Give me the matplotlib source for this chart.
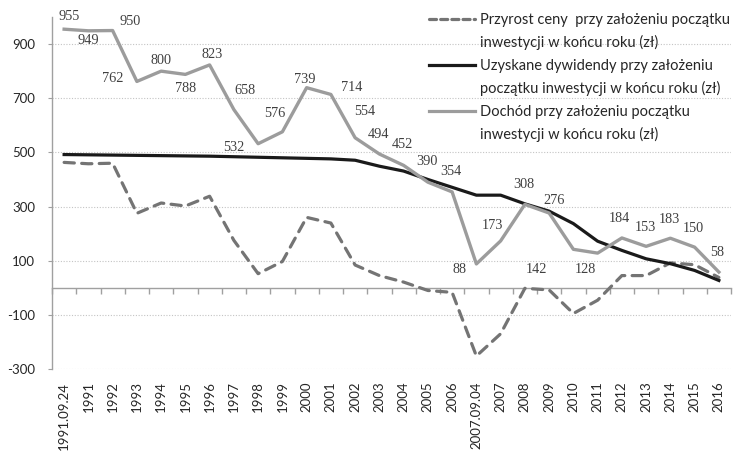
import numpy as np
import matplotlib
matplotlib.use("Agg")
import matplotlib.pyplot as plt
from matplotlib.lines import Line2D

categories = ["1991.09.24", "1991", "1992", "1993", "1994", "1995", "1996", "1997",
              "1998", "1999", "2000", "2001", "2002", "2003", "2004", "2005", "2006",
              "2007.09.04", "2007", "2008", "2009", "2010", "2011", "2012", "2013",
              "2014", "2015", "2016"]

dochod = [955, 949, 950, 762, 800, 788, 823, 658, 532, 576, 739, 714, 554, 494,
          452, 390, 354, 88, 173, 308, 276, 142, 128, 184, 153, 183, 150, 58]

dywidendy = [492, 491, 490, 489, 488, 487, 486, 484, 482, 480, 478, 476, 471, 449,
             431, 400, 371, 342, 342, 310, 283, 237, 172, 138, 107, 89, 64, 27]

przyrost = [463, 458, 460, 275, 313, 302, 338, 175, 52, 97, 260, 239, 84, 45,
            21, -10, -17, -252, -170, -2, -8, -95, -46, 45, 45, 92, 85, 38]

label_offsets = [(5, 13), (0, -10), (17, 9), (-24, 3), (0, 11), (0, -14), (3, 10),
                 (11, 19), (-24, -4), (-8, 18), (-2, 8), (21, 7), (10, 26), (-1, 20),
                 (-1, 21), (-1, 21), (-1, 20), (-17, -6), (-8, 15), (-1, 20), (5, 13),
                 (-37, -20), (-12, -16), (-2, 19), (-1, 19), (-1, 19), (-1, 19), (-2, 20)]

legend_labels = ["Przyrost ceny  przy założeniu początku", "inwestycji w końcu roku (zł)",
                 "Uzyskane dywidendy przy założeniu", "początku inwestycji w końcu roku (zł)",
                 "Dochód przy założeniu początku", "inwestycji w końcu roku (zł)"]

plt.rcParams['font.family'] = ['Lato', 'DejaVu Sans']
plt.rcParams['axes.unicode_minus'] = False

fig = plt.figure(figsize=(7.36, 4.53), dpi=100)
ax = fig.add_axes([52/736, 1-369/453, (731-52)/736, (369-17)/453])

x = np.arange(len(categories))
c_dash = "#747474"
c_gray = "#9c9c9c"
c_black = "#1a1a1a"

ax.plot(x, przyrost, color=c_dash, lw=2.3, dashes=(3.2, 2.3), dash_capstyle='round',
        solid_joinstyle='round', zorder=3)
ax.plot(x, dywidendy, color=c_black, lw=2.3, zorder=4)
ax.plot(x, dochod, color=c_gray, lw=2.4, zorder=5)

for i, v in enumerate(dochod):
    dx, dy = label_offsets[i]
    ax.annotate(str(v), (x[i], v), xytext=(dx, dy), textcoords='offset pixels',
                ha='center', va='center', fontsize=10.3, family='Liberation Serif',
                color='#404040', zorder=6)

ax.set_xlim(-0.5, len(categories) - 0.5)
ax.set_ylim(-300, 1000)
yt = np.arange(-300, 1000, 200)
ax.set_yticks(yt)
ax.yaxis.grid(True, linestyle=(0, (1, 1.5)), color='#c4c4c4', lw=0.8)
ax.set_axisbelow(True)
ax.tick_params(axis='y', length=3, color='#a0a0a0', labelsize=9.5, pad=9, labelcolor='#262626')

ax.set_xticks(x, categories, rotation=90)
ax.tick_params(axis='x', length=0, pad=9, labelsize=9.5, labelcolor='#262626')

for s in ['top', 'right', 'bottom']:
    ax.spines[s].set_visible(False)
ax.spines['left'].set_color('#a0a0a0')
ax.spines['left'].set_linewidth(1.0)

sec = ax.secondary_xaxis(0, transform=ax.transData)
sec.set_xticks(np.arange(-0.5, len(categories)), [])
sec.tick_params(axis='x', length=4, color='#a0a0a0', width=1.0)
sec.spines['bottom'].set_color('#a0a0a0')
sec.spines['bottom'].set_linewidth(1.0)

handles = [Line2D([], [], color=c_dash, lw=2.3, dashes=(2.2, 1.3), dash_capstyle='round'),
           Line2D([], [], color='none'),
           Line2D([], [], color=c_black, lw=2.3),
           Line2D([], [], color='none'),
           Line2D([], [], color=c_gray, lw=2.3),
           Line2D([], [], color='none')]
leg = fig.legend(handles=handles, labels=legend_labels, loc='upper left',
                 bbox_to_anchor=(429/736, 0.972), bbox_transform=fig.transFigure,
                 frameon=False, fontsize=10.5, handlelength=3.15, handletextpad=0.35,
                 labelspacing=0.58, borderpad=0, borderaxespad=0)
for t in leg.get_texts():
    t.set_color('#262626')

fig.savefig("out.png", dpi=100)
